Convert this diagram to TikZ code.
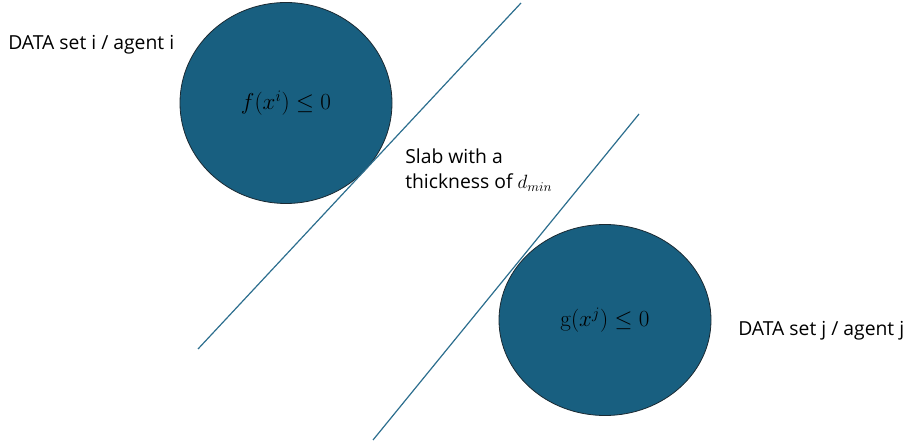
\documentclass[tikz,border=0pt]{standalone}
\usepackage{amsmath,amssymb}
\usepackage[no-math]{fontspec}
\setmainfont{Open Sans}
\usepackage{tikz}
\usetikzlibrary{positioning,shapes.geometric}
\definecolor{setFill}{HTML}{185F80}
\definecolor{setBd}{HTML}{1B2A33}
\definecolor{slabLine}{HTML}{2C6E8E}
\tikzset{
  dataset/.style={
    ellipse, fill=setFill, draw=setBd, line width=0.6pt,
    inner sep=0pt, font=\fontsize{17}{20}\selectfont
  },
  slab/.style={draw=slabLine, line width=0.9pt},
  tag/.style={font=\fontsize{14.5}{17.5}\selectfont, inner sep=0pt, align=left}
}

\begin{document}
\begin{tikzpicture}[x=0.75pt,y=-0.75pt]
  \useasboundingbox (0,0) rectangle (909,445);
  % data sets
  \node[dataset, minimum width=212*0.75pt, minimum height=201*0.75pt] (seti) at (286,103) {$f(x^{i}) \leq 0$};
  \node[dataset, minimum width=212*0.75pt, minimum height=191*0.75pt] (setj) at (605,320) {$\mathrm{g}(x^{j}) \leq 0$};
  % slab borders
  \coordinate (ilow) at (198,349);
  \coordinate (iup) at (521,3);
  \coordinate (jlow) at (373,440);
  \coordinate (jup) at (639,114);
  \draw[slab] (ilow) -- (iup);
  \draw[slab] (jlow) -- (jup);
  % labels
  \node[tag, anchor=west] (agi) at (8,45) {DATA set i / agent i};
  \node[tag, anchor=west] (agj) at (738,331) {DATA set j / agent j};
  \node[tag, anchor=west] (thick) at (405,170) {Slab with a\\[1pt] thickness of $d_{\scriptstyle min}$};
\end{tikzpicture}
\end{document}
